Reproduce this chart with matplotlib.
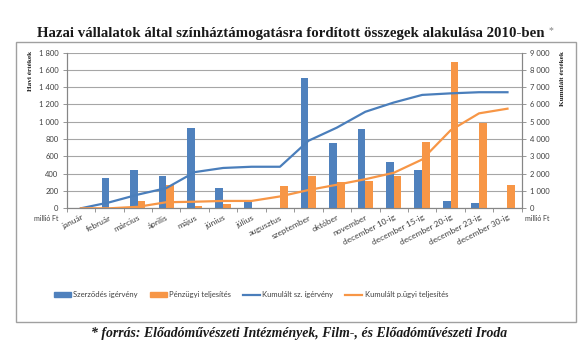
import matplotlib
matplotlib.use("Agg")
import matplotlib.pyplot as plt
import numpy as np
from matplotlib.patches import Rectangle, Patch
from matplotlib.lines import Line2D
from matplotlib.ticker import FuncFormatter

categories = ["január", "február", "március", "április", "május", "június", "július",
              "augusztus", "szeptember", "október", "november", "december 10-ig",
              "december 15-ig", "december 20-ig", "december 23-ig", "december 30-ig"]
szerzodes = [0, 345, 445, 375, 925, 240, 70, 0, 1500, 760, 915, 535, 440, 90, 65, 0]
penzugyi = [0, 0, 85, 265, 30, 45, 0, 260, 370, 305, 320, 370, 770, 1685, 980, 270]
kum_szerz = [0, 345, 790, 1165, 2090, 2330, 2400, 2400, 3900, 4660, 5575, 6110, 6550, 6640, 6705, 6705]
kum_penz = [0, 0, 85, 350, 380, 425, 425, 685, 1055, 1360, 1680, 2050, 2820, 4505, 5485, 5755]

left_ticks = [0, 200, 400, 600, 800, 1000, 1200, 1400, 1600, 1800]
right_ticks = [0, 1000, 2000, 3000, 4000, 5000, 6000, 7000, 8000, 9000]

BLUE = "#4F81BD"
ORANGE = "#F79646"
LBLUE = "#4A7EBB"
GRID = "#A6A6A6"
TXT = "#404040"

fig = plt.figure(figsize=(5.88, 3.55), dpi=100)
fig.patch.set_facecolor("white")

# chart border
fig.patches.append(Rectangle((16/588, 1-322/355), (576-16)/588, (322-42)/355,
                             transform=fig.transFigure, fill=False,
                             edgecolor="#A0A0A0", linewidth=1.0))

ax = fig.add_axes([66.7/588, 1-208.3/355, (521.7-66.7)/588, (208.3-52.5)/355])
ax2 = ax.twinx()

x = np.arange(len(categories))
w = 0.27
ax.bar(x - w/2, szerzodes, width=w, color=BLUE, zorder=3)
ax.bar(x + w/2, penzugyi, width=w, color=ORANGE, zorder=3)
ax.set_ylim(0, 1800)
ax.set_yticks(left_ticks)
ax.set_xlim(-0.5, len(categories) - 0.5)
ax.yaxis.grid(True, color=GRID, linewidth=0.8, zorder=0)
ax.set_axisbelow(True)

ax2.plot(x, kum_szerz, color=LBLUE, linewidth=1.6, zorder=4)
ax2.plot(x, kum_penz, color=ORANGE, linewidth=1.6, zorder=4)
ax2.set_ylim(0, 9000)
ax2.set_yticks(right_ticks)

fmt = FuncFormatter(lambda v, p: f"{int(v):,}".replace(",", " "))
ax.yaxis.set_major_formatter(fmt)
ax2.yaxis.set_major_formatter(fmt)

for a in (ax, ax2):
    a.spines["top"].set_visible(False)
    a.spines["left"].set_color("#868686")
    a.spines["right"].set_color("#868686")
    a.spines["bottom"].set_color("#868686")
    a.tick_params(axis="y", labelsize=5.5, colors="#868686", labelcolor=TXT,
                  length=3, width=0.6, pad=3)

ax.set_xticks(np.arange(-0.5, len(categories), 1.0), minor=True)
ax.set_xticks(x)
ax.tick_params(axis="x", which="major", length=0, labelsize=6, labelcolor=TXT, pad=4)
ax.tick_params(axis="x", which="minor", length=3, width=0.6, colors="#868686")
ax.set_xticklabels(categories, rotation=27, ha="right", va="top", rotation_mode="anchor")
for lbl in ax.get_xticklabels():
    lbl.set_fontfamily("Lato")
for a in (ax, ax2):
    for lbl in a.get_yticklabels():
        lbl.set_fontfamily("Lato")

# axis titles
fig.text(30/588, 1-71/355, "Havi értékek", rotation=90, ha="center", va="center",
         fontsize=5.2, fontweight="bold", family="Liberation Serif", color="#202020")
fig.text(563/588, 1-79/355, "Kumulált értékek", rotation=90, ha="center", va="center",
         fontsize=5.2, fontweight="bold", family="Liberation Serif", color="#202020")
fig.text(46/588, 1-219/355, "millió Ft", ha="center", va="center", fontsize=5,
         family="Lato", color=TXT)
fig.text(537/588, 1-219/355, "millió Ft", ha="center", va="center", fontsize=5,
         family="Lato", color=TXT)

# title
fig.text(291/588, 1-33/355,
         "Hazai vállalatok által színháztámogatásra fordított összegek alakulása 2010-ben",
         ha="center", va="center", fontsize=10.75, fontweight="bold",
         family="Liberation Serif", color="#1a1a1a")
fig.text(551/588, 1-31/355, "*", ha="center", va="center", fontsize=7,
         family="Liberation Serif", color="#808080")

# legend
handles = [Patch(facecolor=BLUE, edgecolor=BLUE),
           Patch(facecolor=ORANGE, edgecolor=ORANGE),
           Line2D([], [], color=LBLUE, linewidth=1.6),
           Line2D([], [], color=ORANGE, linewidth=1.6)]
labels = ["Szerződés igérvény", "Pénzügyi teljesítés", "Kumulált sz. ígérvény",
          "Kumulált p.ügyi teljesítés"]
leg = fig.legend(handles, labels, loc="center", bbox_to_anchor=(251/588, 1-295/355),
                 ncol=4, frameon=False, handlelength=2.2,
                 handleheight=0.6, columnspacing=1.6, handletextpad=0.3,
                 prop={"family": "Lato", "size": 5.5})
for t in leg.get_texts():
    t.set_color(TXT)

# footer
fig.text(299/588, 1-333/355,
         "* forrás: Előadóművészeti Intézmények, Film-, és Előadóművészeti Iroda",
         ha="center", va="center", fontsize=9.9, fontweight="bold", style="italic",
         family="Liberation Serif", color="#1a1a1a")

fig.savefig("out.png", dpi=100, facecolor="white")
